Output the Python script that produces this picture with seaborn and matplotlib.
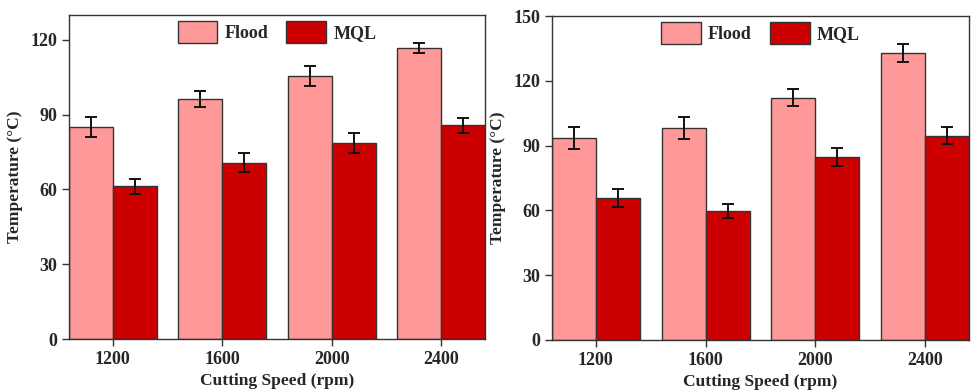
import matplotlib
matplotlib.use("Agg")
import matplotlib.pyplot as plt
import seaborn as sns
import pandas as pd

speeds = ["1200", "1600", "2000", "2400"]
methods = ["Flood", "MQL"]

# Panel (a)
flood_a = [85.0, 96.3, 105.5, 116.8]
flood_a_err = [4.0, 3.1, 4.1, 2.0]
mql_a = [61.2, 70.8, 78.6, 85.7]
mql_a_err = [3.0, 4.0, 4.1, 3.1]

# Panel (b)
flood_b = [93.5, 98.0, 112.2, 132.7]
flood_b_err = [5.1, 5.1, 4.0, 4.2]
mql_b = [65.6, 59.6, 84.7, 94.6]
mql_b_err = [4.1, 3.2, 4.0, 4.0]

yticks_a = [0, 30, 60, 90, 120]
yticks_b = [0, 30, 60, 90, 120, 150]

palette = {"Flood": "#FF9999", "MQL": "#CC0000"}

sns.set_theme(style="white")
plt.rcParams["font.family"] = ["Liberation Serif", "DejaVu Serif"]
plt.rcParams["font.weight"] = "bold"


def make_frame(flood, mql):
    return pd.DataFrame({
        "speed": speeds * 2,
        "method": ["Flood"] * len(speeds) + ["MQL"] * len(speeds),
        "temp": list(flood) + list(mql),
    })


def draw_panel(ax, flood, flood_err, mql, mql_err, ylim, yticks):
    df = make_frame(flood, mql)
    sns.barplot(data=df, x="speed", y="temp", hue="method", order=speeds,
                hue_order=methods, palette=palette, width=0.8, errorbar=None,
                edgecolor="#333333", linewidth=1.0, saturation=1, ax=ax)
    for cont, errs in zip(ax.containers, [flood_err, mql_err]):
        xs = [p.get_x() + p.get_width() / 2 for p in cont.patches]
        hs = [p.get_height() for p in cont.patches]
        ax.errorbar(xs, hs, yerr=errs, fmt="none", ecolor="#111111",
                    elinewidth=1.4, capsize=4, capthick=1.4, zorder=5)
    ax.set_xlim(-0.4, 3.4)
    ax.set_ylim(*ylim)
    ax.set_yticks(yticks)
    ax.set_xticks(range(len(speeds)))
    ax.set_xticklabels(speeds)
    ax.tick_params(axis="both", direction="out", length=5, width=1.0,
                   color="#333333", labelsize=13, bottom=True, left=True)
    for lab in ax.get_xticklabels() + ax.get_yticklabels():
        lab.set_fontweight("bold")
    ax.set_xlabel("Cutting Speed (rpm)", fontsize=12.5, fontweight="bold", labelpad=4)
    ax.set_ylabel("Temperature (°C)", fontsize=12.5, fontweight="bold", labelpad=5)
    for sp in ax.spines.values():
        sp.set_color("#333333")
        sp.set_linewidth(1.0)
    leg = ax.legend(loc="upper center", bbox_to_anchor=(0.5, 0.993), ncol=2,
                    frameon=False, prop={"size": 13, "weight": "bold"},
                    handlelength=2.2, handleheight=1.5, columnspacing=1.0,
                    handletextpad=0.4, borderaxespad=0.0, borderpad=0.2)
    for h in leg.legend_handles:
        h.set_edgecolor("#333333")


fig = plt.figure(figsize=(9.74, 3.92), dpi=100)
ax1 = fig.add_axes([0.0708, 0.135, 0.4272, 0.827])
ax2 = fig.add_axes([0.5667, 0.133, 0.4282, 0.826])

draw_panel(ax1, flood_a, flood_a_err, mql_a, mql_a_err, (0, 130), yticks_a)
draw_panel(ax2, flood_b, flood_b_err, mql_b, mql_b_err, (0, 150), yticks_b)

fig.savefig("out.png", dpi=100)
